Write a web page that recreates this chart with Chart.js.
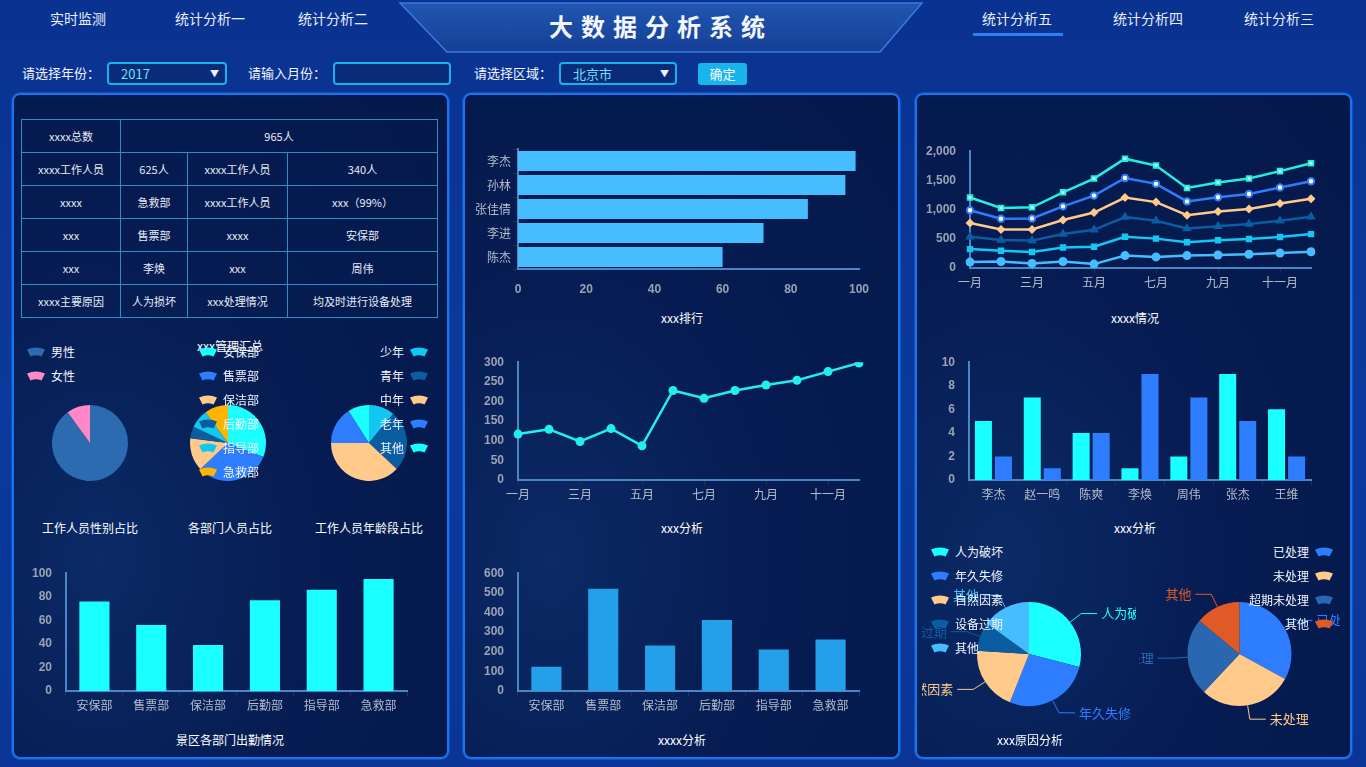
<!DOCTYPE html>
<html>
<head>
<meta charset="utf-8">
<title>大数据分析系统</title>
<script src="https://cdn.jsdelivr.net/npm/chart.js@4.4.0/dist/chart.umd.min.js"></script>
<style>
  html, body { margin: 0; padding: 0; width: 1366px; height: 767px; overflow: hidden; }
  body {
    position: relative;
    background: linear-gradient(180deg, #0a3290 0%, #0b3a9c 55%, #0a3596 100%);
    font-family: "Noto Sans CJK SC", "Microsoft YaHei", sans-serif;
    color: #fff;
  }
  .abs { position: absolute; }
  .nav { position: absolute; top: 8px; font-size: 14px; color: #e8eefc; transform: translateX(-50%); white-space: nowrap; }
  .nav-line { position: absolute; left: 973px; top: 33px; width: 90px; height: 3px; background: #2f7ff0; }
  .title { position: absolute; left: 400px; width: 522px; top: 8px; text-align: center; font-size: 24px; font-weight: bold; letter-spacing: 8px; color: #f4f7ff; z-index: 2; }
  .flabel { position: absolute; top: 63px; font-size: 13px; color: #f0f4ff; line-height: 20px; }
  .fbox { position: absolute; top: 62px; height: 19px; border: 2px solid #17b2ea; border-radius: 4px; background: #0a2c78; font-size: 13px; line-height: 19px; color: #6ee0ff; padding-left: 12px; box-sizing: content-box; }
  .fbox .arr { position: absolute; right: 6px; top: 0; font-size: 9px; color: #e8f4ff; }
  .btn { position: absolute; left: 698px; top: 63px; width: 49px; height: 22px; background: #19b4ec; border-radius: 3px; font-size: 13px; line-height: 22px; text-align: center; color: #fff; }
  .panel { position: absolute; top: 93px; width: 433px; height: 662px; border: 2px solid #1a74ee; border-radius: 8px;
           background: radial-gradient(ellipse at 20% 70%, #0b2a66 0%, #061c52 45%, #04184a 100%);
           box-shadow: 0 0 0 1px #0e4fc0; }
  table.info { position: absolute; left: 21px; top: 119px; width: 417px; border-collapse: collapse; z-index: 2; }
  table.info td { border: 1px solid #2d8fc4; height: 32px; padding: 0; text-align: center; font-size: 11px; color: #e6ecf5; }
  .ctitle { position: absolute; font-size: 12px; color: #ffffff; transform: translateX(-50%); white-space: nowrap; z-index: 3; }
  .leg { position: absolute; font-size: 12px; color: #f2f6ff; white-space: nowrap; z-index: 4; display: flex; align-items: center; height: 16px; line-height: 16px; }
  .leg svg { display: block; }
  canvas { z-index: 2; }
</style>
</head>
<body>

<div class="nav" style="left:78px">实时监测</div>
<div class="nav" style="left:210px">统计分析一</div>
<div class="nav" style="left:333px">统计分析二</div>
<div class="nav" style="left:1017px">统计分析五</div>
<div class="nav" style="left:1148px">统计分析四</div>
<div class="nav" style="left:1279px">统计分析三</div>
<div class="nav-line"></div>

<svg class="abs" style="left:0;top:0;z-index:1" width="1366" height="60">
  <defs>
    <linearGradient id="tg" x1="0" y1="0" x2="0" y2="1">
      <stop offset="0" stop-color="#2156b0"/>
      <stop offset="1" stop-color="#163f96"/>
    </linearGradient>
  </defs>
  <polygon points="400,3 922,3 880,52 447,52" fill="url(#tg)" stroke="#3a7ae0" stroke-width="1.5"/>
</svg>
<div class="title">大数据分析系统</div>

<div class="flabel" style="left:22px">请选择年份：</div>
<div class="fbox" style="left:107px;width:104px">2017<span class="arr">▼</span></div>
<div class="flabel" style="left:248px">请输入月份：</div>
<div class="fbox" style="left:333px;padding-left:0;width:114px"></div>
<div class="flabel" style="left:474px">请选择区域：</div>
<div class="fbox" style="left:559px;width:102px">北京市<span class="arr">▼</span></div>
<div class="btn">确定</div>

<div class="panel" style="left:12px"></div>
<div class="panel" style="left:463px"></div>
<div class="panel" style="left:915px"></div>

<table class="info">
  <tr><td style="width:98px">xxxx总数</td><td colspan="3">965人</td></tr>
  <tr><td>xxxx工作人员</td><td style="width:66px">625人</td><td style="width:99px">xxxx工作人员</td><td>340人</td></tr>
  <tr><td>xxxx</td><td>急救部</td><td>xxxx工作人员</td><td>xxx（99%）</td></tr>
  <tr><td>xxx</td><td>售票部</td><td>xxxx</td><td>安保部</td></tr>
  <tr><td>xxx</td><td>李焕</td><td>xxx</td><td>周伟</td></tr>
  <tr><td>xxxx主要原因</td><td>人为损坏</td><td>xxx处理情况</td><td>均及时进行设备处理</td></tr>
</table>

<div class="ctitle" style="left:230px;top:337px">xxx管理汇总</div>
<div class="ctitle" style="left:90px;top:519px">工作人员性别占比</div>
<div class="ctitle" style="left:230px;top:519px">各部门人员占比</div>
<div class="ctitle" style="left:369px;top:519px">工作人员年龄段占比</div>
<div class="ctitle" style="left:230px;top:731px">景区各部门出勤情况</div>
<div class="ctitle" style="left:682px;top:309px">xxx排行</div>
<div class="ctitle" style="left:682px;top:519px">xxx分析</div>
<div class="ctitle" style="left:682px;top:731px">xxxx分析</div>
<div class="ctitle" style="left:1135px;top:309px">xxxx情况</div>
<div class="ctitle" style="left:1135px;top:519px">xxx分析</div>
<div class="ctitle" style="left:1030px;top:731px">xxx原因分析</div>

<script>
// ---------- data ----------
const genderLabels = ['男性', '女性'];
const genderValues = [90, 10];
const genderColors = ['#2d6bb1', '#ff88c8'];

const deptLabels = ['安保部', '售票部', '保洁部', '后勤部', '指导部', '急救部'];
const deptShare = [31, 32, 14, 5, 8, 10];
const deptColors = ['#1affff', '#2e7dff', '#ffca8a', '#0a5da0', '#12c8f2', '#ffb400'];

const ageLabels = ['少年', '青年', '中年', '老年', '其他'];
const ageValues = [11, 26, 38, 16, 9];
const ageColors = ['#12c8f2', '#0a5da0', '#ffca8a', '#2e7dff', '#1affff'];

const attendValues = [76, 56, 39, 77, 86, 95];

const rankNames = ['李杰', '孙林', '张佳倩', '李进', '陈杰'];
const rankValues = [99, 96, 85, 72, 60];

const months = ['一月', '二月', '三月', '四月', '五月', '六月', '七月', '八月', '九月', '十月', '十一月', '十二月'];
const monthValues = [117, 129, 98, 131, 87, 228, 208, 228, 242, 254, 276, 298];

const deptCounts = [123, 521, 232, 361, 212, 262];

const trendA = [1207, 1028, 1039, 1296, 1531, 1872, 1754, 1369, 1464, 1531, 1659, 1793];
const trendB = [989, 844, 849, 1056, 1240, 1542, 1441, 1140, 1212, 1268, 1380, 1486];
const trendC = [771, 659, 659, 821, 950, 1207, 1128, 905, 966, 1011, 1106, 1184];
const trendD = [536, 480, 469, 581, 654, 872, 810, 676, 715, 754, 810, 877];
const trendE = [324, 296, 274, 352, 363, 536, 503, 441, 475, 497, 531, 581];
const trendF = [101, 112, 78, 112, 67, 212, 190, 212, 223, 235, 257, 279];

const staffNames = ['李杰', '赵一鸣', '陈爽', '李焕', '周伟', '张杰', '王维'];
const staffA = [5, 7, 4, 1, 2, 9, 6];
const staffB = [2, 1, 4, 9, 7, 5, 2];

const causeLabels = ['人为破坏', '年久失修', '自然因素', '设备过期', '其他'];
const causeValues = [29, 27, 20, 9, 15];
const causeColors = ['#1affff', '#2e7dff', '#ffca8a', '#0a5da0', '#45bdff'];

const handleLabels = ['已处理', '未处理', '超期未处理', '其他'];
const handleValues = [33, 29, 24, 14];
const handleColors = ['#2e7dff', '#ffca8a', '#2a67b0', '#e05a28'];

// ---------- helpers ----------
const NUM_FONT = { family: '"Liberation Sans", Arial, sans-serif', size: 12, weight: 'bold' };
const CJK_FONT = { family: '"Noto Sans CJK SC", sans-serif', size: 12 };
const AXIS = '#4a86c5';
const NUM_COLOR = '#9aa3b5';
const CAT_COLOR = '#b4bccb';

function place(left, top, w, h) {
  const c = document.createElement('canvas');
  c.width = w; c.height = h;
  c.style.cssText = `position:absolute;left:${left}px;top:${top}px;width:${w}px;height:${h}px;z-index:2`;
  document.body.appendChild(c);
  return c;
}

// canvas framed so that the plot area lands on L,T,R,B
const YW = 50, XH = 28, PT = 10, PR = 22;
function frame(L, T, R, B) {
  return place(L - YW, T - PT, R - L + YW + PR, B - T + PT + XH);
}

function valueAxis(min, max, step) {
  return {
    min, max,
    ticks: { stepSize: step, color: NUM_COLOR, font: NUM_FONT, padding: 6 },
    grid: { display: false },
    border: { color: AXIS, width: 2 }
  };
}
function catAxis(every) {
  return {
    ticks: {
      color: CAT_COLOR, font: CJK_FONT, autoSkip: false, maxRotation: 0, padding: 2,
      callback: function (v, i) { return (every && i % every) ? '' : this.getLabelForValue(v); }
    },
    grid: {
      drawOnChartArea: false, tickLength: 5,
      color: ctx => (every && ctx.index % every) ? 'rgba(0,0,0,0)' : '#2a3346'
    },
    border: { color: AXIS, width: 2 }
  };
}
const fitY = s => { s.width = YW; };
const fitX = s => { s.height = XH; };

const baseOpts = () => ({
  responsive: false,
  animation: false,
  layout: { padding: { top: PT, right: PR, left: 0, bottom: 0 } },
  plugins: { legend: { display: false }, tooltip: { enabled: false } }
});

function fanIcon(color) {
  return `<svg width="18" height="10" viewBox="0 0 18 10"><path d="M0 2.5 Q9 -1.5 18 2.5 L14.5 9.5 Q9 7 3.5 9.5 Z" fill="${color}"/></svg>`;
}
function legend(labels, colors, x, y0, gap, rightAlign) {
  labels.forEach((name, i) => {
    const d = document.createElement('div');
    d.className = 'leg';
    d.style.top = (y0 + i * gap - 8) + 'px';
    if (rightAlign) {
      d.style.right = (1366 - x) + 'px';
      d.innerHTML = `<span>${name}</span><span style="width:6px"></span>${fanIcon(colors[i])}`;
    } else {
      d.style.left = x + 'px';
      d.innerHTML = `${fanIcon(colors[i])}<span style="width:6px"></span><span>${name}</span>`;
    }
    document.body.appendChild(d);
  });
}

// outside labels with leader lines for the cause / handling pies
const outerLabels = {
  id: 'outerLabels',
  afterDatasetsDraw(chart) {
    const ctx = chart.ctx;
    const meta = chart.getDatasetMeta(0);
    const colors = chart.data.datasets[0].backgroundColor;
    ctx.save();
    ctx.font = '13px "Noto Sans CJK SC", sans-serif';
    ctx.textBaseline = 'middle';
    meta.data.forEach((arc, i) => {
      const { x, y, startAngle, endAngle, outerRadius } = arc.getProps(['x', 'y', 'startAngle', 'endAngle', 'outerRadius'], true);
      const mid = (startAngle + endAngle) / 2;
      const cs = Math.cos(mid), sn = Math.sin(mid);
      const p1 = [x + cs * outerRadius, y + sn * outerRadius];
      const p2 = [x + cs * (outerRadius + 14), y + sn * (outerRadius + 14)];
      const dir = cs >= 0 ? 1 : -1;
      const p3 = [p2[0] + dir * 16, p2[1]];
      ctx.strokeStyle = colors[i];
      ctx.lineWidth = 1;
      ctx.beginPath();
      ctx.moveTo(p1[0], p1[1]); ctx.lineTo(p2[0], p2[1]); ctx.lineTo(p3[0], p3[1]);
      ctx.stroke();
      ctx.fillStyle = colors[i];
      ctx.textAlign = dir > 0 ? 'left' : 'right';
      ctx.fillText(chart.data.labels[i], p3[0] + dir * 4, p3[1]);
    });
    ctx.restore();
  }
};

function pie(canvas, labels, values, colors, pad, plugins) {
  const o = baseOpts();
  o.layout.padding = pad || 0;
  return new Chart(canvas, {
    type: 'pie',
    data: { labels, datasets: [{ data: values, backgroundColor: colors, borderWidth: 0 }] },
    options: o,
    plugins: plugins || []
  });
}

// ---------- left panel pies ----------
pie(place(52, 405, 76, 76), genderLabels, genderValues, genderColors);
pie(place(190, 405, 76, 76), deptLabels, deptShare, deptColors);
pie(place(331, 405, 76, 76), ageLabels, ageValues, ageColors);
legend(genderLabels, genderColors, 27, 352, 24, false);
legend(deptLabels, deptColors, 199, 352, 24, false);
legend(ageLabels, ageColors, 428, 352, 24, true);

// ---------- attendance bars ----------
(function () {
  const o = baseOpts();
  o.scales = {
    x: Object.assign(catAxis(0), { afterFit: fitX }),
    y: Object.assign(valueAxis(0, 100, 20), { afterFit: fitY })
  };
  new Chart(frame(66, 570, 407, 691), {
    type: 'bar',
    data: { labels: deptLabels, datasets: [{ data: attendValues, backgroundColor: '#1affff', barPercentage: 0.53, categoryPercentage: 1 }] },
    options: o
  });
})();

// ---------- ranking (horizontal) ----------
(function () {
  const o = baseOpts();
  o.indexAxis = 'y';
  o.scales = {
    y: Object.assign(catAxis(0), { afterFit: fitY }),
    x: Object.assign(valueAxis(0, 100, 20), { afterFit: fitX })
  };
  o.scales.x.ticks.padding = 5;
  new Chart(frame(518, 149, 859, 269), {
    type: 'bar',
    data: { labels: rankNames, datasets: [{ data: rankValues, backgroundColor: '#45bdff', barPercentage: 0.84, categoryPercentage: 1 }] },
    options: o
  });
})();

// ---------- monthly line ----------
(function () {
  const o = baseOpts();
  o.scales = {
    x: Object.assign(catAxis(2), { afterFit: fitX }),
    y: Object.assign(valueAxis(0, 300, 50), { afterFit: fitY })
  };
  new Chart(frame(518, 359, 859, 480), {
    type: 'line',
    data: {
      labels: months,
      datasets: [{ data: monthValues, borderColor: '#22eeee', backgroundColor: '#22eeee', borderWidth: 2.5,
                   pointRadius: 4.5, pointBorderWidth: 0, tension: 0 }]
    },
    options: o
  });
})();

// ---------- department count bars ----------
(function () {
  const o = baseOpts();
  o.scales = {
    x: Object.assign(catAxis(0), { afterFit: fitX }),
    y: Object.assign(valueAxis(0, 600, 100), { afterFit: fitY })
  };
  new Chart(frame(518, 570, 859, 691), {
    type: 'bar',
    data: { labels: deptLabels, datasets: [{ data: deptCounts, backgroundColor: '#249fea', barPercentage: 0.53, categoryPercentage: 1 }] },
    options: o
  });
})();

// ---------- multi-line trend ----------
(function () {
  const o = baseOpts();
  o.scales = {
    x: Object.assign(catAxis(2), { afterFit: fitX }),
    y: Object.assign(valueAxis(0, 2000, 500), { afterFit: fitY })
  };
  const ds = (name, data, color, style, hollow, r) => ({
    label: name, data, borderColor: color, borderWidth: 2.5, tension: 0,
    pointStyle: style, pointRadius: r, pointBorderColor: color,
    pointBackgroundColor: hollow ? '#ffffff' : color, pointBorderWidth: hollow ? 2 : 0
  });
  new Chart(frame(970, 148, 1311, 268), {
    type: 'line',
    data: {
      labels: months,
      datasets: [
        ds('系列一', trendA, '#1ff0e0', 'rect', true, 3.2),
        ds('系列二', trendB, '#2e7dff', 'circle', true, 3.2),
        ds('系列三', trendC, '#ffca8a', 'rectRot', false, 4.5),
        ds('系列四', trendD, '#0a5da0', 'triangle', false, 5.5),
        ds('系列五', trendE, '#12c8f2', 'rect', false, 4.5),
        ds('系列六', trendF, '#45bdff', 'circle', false, 4.5)
      ]
    },
    options: o
  });
})();

// ---------- grouped bars ----------
(function () {
  const o = baseOpts();
  o.scales = {
    x: Object.assign(catAxis(0), { afterFit: fitX }),
    y: Object.assign(valueAxis(0, 10, 2), { afterFit: fitY })
  };
  new Chart(frame(969, 359, 1311, 480), {
    type: 'bar',
    data: {
      labels: staffNames,
      datasets: [
        { data: staffA, backgroundColor: '#1affff', barPercentage: 0.85, categoryPercentage: 0.82 },
        { data: staffB, backgroundColor: '#2e7dff', barPercentage: 0.85, categoryPercentage: 0.82 }
      ]
    },
    options: o
  });
})();

// ---------- cause / handling pies ----------
pie(place(922, 575, 214, 160), causeLabels, causeValues, causeColors, { top: 27, bottom: 29, left: 0, right: 0 }, [outerLabels]);
pie(place(1139, 575, 201, 160), handleLabels, handleValues, handleColors, { top: 27, bottom: 29, left: 0, right: 0 }, [outerLabels]);
legend(causeLabels, causeColors, 931, 552, 24, false);
legend(handleLabels, handleColors, 1333, 552, 24, true);
</script>
</body>
</html>
